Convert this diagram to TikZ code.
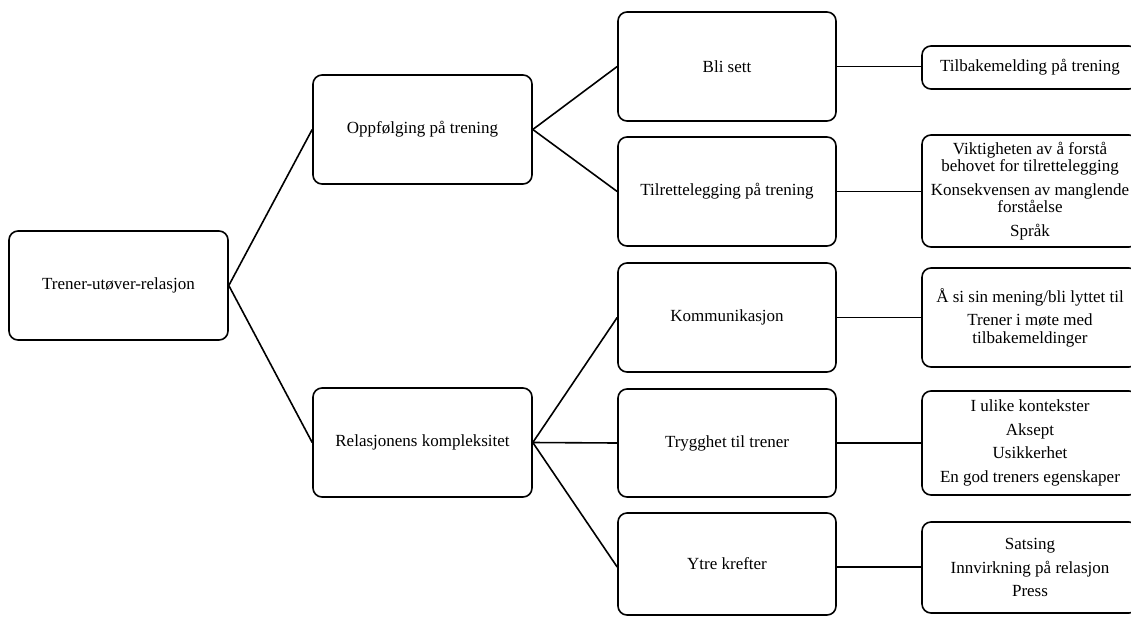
\documentclass[tikz,border=0pt]{standalone}
\usepackage{fontspec}
\setmainfont{Liberation Serif}
\begin{document}
\begin{tikzpicture}[x=1pt,y=-1pt,
  box/.style={draw, line width=1.6pt, rounded corners=9pt, align=center, inner sep=0pt,
    font=\fontsize{17}{17.5}\selectfont, minimum width=218pt, minimum height=109pt},
  conn/.style={line width=1.6pt}]
\useasboundingbox (0,0) rectangle (1131,616);
\clip (0,0) rectangle (1131,616);
% level 0
\node[box, minimum width=219pt] (root) at (118.5,285.5) {Trener-utøver-relasjon};
% level 1
\node[box, minimum width=219pt] (opp) at (422.5,129.5) {Oppfølging på trening};
\node[box, minimum width=219pt] (rel) at (422.5,442.5) {Relasjonens kompleksitet};
% level 2
\node[box] (bli) at (727,66.5) {Bli sett};
\node[box] (til) at (727,191.5) {Tilrettelegging på trening};
\node[box] (kom) at (727,317.5) {Kommunikasjon};
\node[box, minimum height=108pt] (try) at (727,443) {Trygghet til trener};
\node[box, minimum height=102pt] (ytr) at (727,564) {Ytre krefter};
% level 3
\node[box, minimum height=43pt, minimum width=216pt] (r1) at (1030,67.5) {Tilbakemelding på trening};
\node[box, minimum height=112pt, minimum width=216pt] (r2) at (1030,191) {Viktigheten av å forstå\\behovet for tilrettelegging\\[6pt]Konsekvensen av manglende\\forståelse\\[6pt]Språk};
\node[box, minimum height=99pt, minimum width=216pt] (r3) at (1030,317.5) {Å si sin mening/bli lyttet til\\[6pt]Trener i møte med\\tilbakemeldinger};
\node[box, minimum height=104pt, minimum width=216pt] (r4) at (1030,443) {I ulike kontekster\\[6pt]Aksept\\[6pt]Usikkerhet\\[6pt]En god treners egenskaper};
\node[box, minimum height=91pt, minimum width=216pt] (r5) at (1030,567.5) {Satsing\\[6pt]Innvirkning på relasjon\\[6pt]Press};
% connectors
\draw[conn] (root.east) -- (opp.west);
\draw[conn] (root.east) -- (rel.west);
\draw[conn] (opp.east) -- (bli.west);
\draw[conn] (opp.east) -- (til.west);
\draw[conn] (rel.east) -- (kom.west);
\draw[conn] (rel.east) -- (try.west);
\draw[conn] (rel.east) -- ([yshift=-3pt]ytr.west);
\draw[conn] (bli.east) -- (bli.east -| r1.west);
\draw[conn] (til.east) -- (til.east -| r2.west);
\draw[conn] (kom.east) -- (kom.east -| r3.west);
\draw[conn] (try.east) -- (try.east -| r4.west);
\draw[conn] ([yshift=-3pt]ytr.east) -- ([yshift=-3pt]ytr.east -| r5.west);
\end{tikzpicture}
\end{document}
